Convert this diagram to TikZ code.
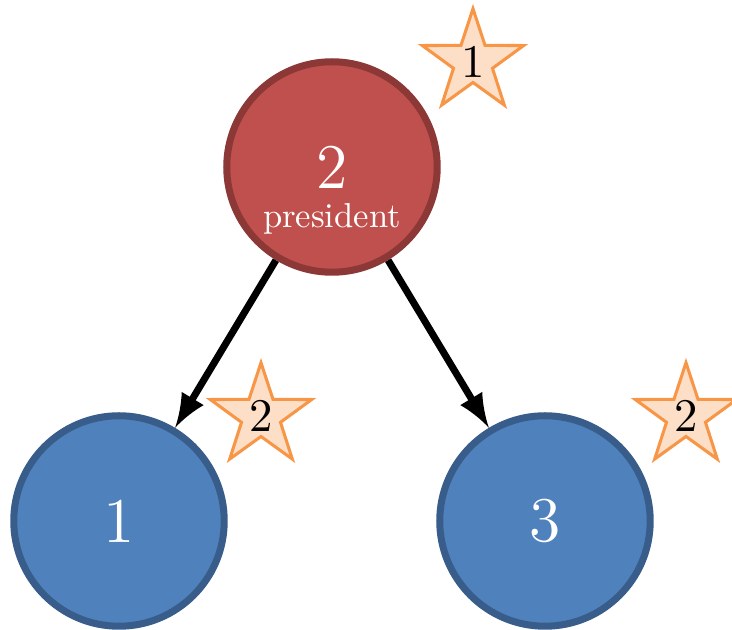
\documentclass[tikz,border=0pt]{standalone}
\usepackage{fontspec}
\usepackage{tikz-network}
\usetikzlibrary{shapes.geometric,arrows.meta}
\newfontfamily\rolefont{lmroman10-regular}[Extension=.otf]
\definecolor{P}{HTML}{C0504D}
\definecolor{Pline}{HTML}{8C3836}
\definecolor{M}{HTML}{4F81BD}
\definecolor{Mline}{HTML}{385D8A}
\definecolor{R}{HTML}{FDDFC7}
\definecolor{Rline}{HTML}{F79646}

\begin{document}
\begin{tikzpicture}[x=0.0075cm, y=-0.0075cm,
    member/.style={shape=circle, inner sep=0pt, minimum size=1.58cm, line width=1.5pt, text=white, font=\fontsize{13.6}{16}\selectfont},
    rank/.style={shape=star, star points=5, star point ratio=2.6, minimum size=0.8cm, inner sep=-2pt, line width=0.65pt, draw=Rline, fill=R, font=\fontsize{10}{12}\selectfont}]
    \useasboundingbox (0,0) rectangle (732,630);

    \node at (332, 167) (pres) [member, fill=P, draw=Pline] {2};
    \node at (332, 219) (presrole) [text=white, font=\rolefont\fontsize{7.4}{9}\selectfont] {president};
    \node at (119, 521) (m1) [member, fill=M, draw=Mline] {1};
    \node at (545, 521) (m3) [member, fill=M, draw=Mline] {3};

    \node at (473, 62) (rpres) [rank] {1};
    \node at (261, 416) (rm1) [rank] {2};
    \node at (686, 416) (rm3) [rank] {2};

    \Edge[Direct, color=black, lw=1.5](pres)(m1)
    \Edge[Direct, color=black, lw=1.5](pres)(m3)
  \end{tikzpicture}
\end{document}
